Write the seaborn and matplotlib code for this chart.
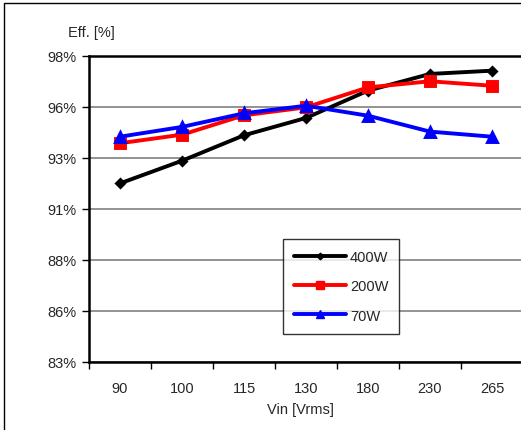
import matplotlib
matplotlib.use('Agg')
from matplotlib import pyplot as plt
from matplotlib.patches import Rectangle
from matplotlib.lines import Line2D
import pandas as pd
import seaborn as sns

# data
vin = ['90', '100', '115', '130', '180', '230', '265']
eff_400w = [91.75, 92.86, 94.11, 94.96, 96.30, 97.12, 97.28]
eff_200w = [93.72, 94.14, 95.09, 95.48, 96.46, 96.76, 96.54]
eff_70w = [94.04, 94.52, 95.19, 95.56, 95.07, 94.29, 94.04]
series_names = ['400W', '200W', '70W']
ytick_values = [83.0, 85.5, 88.0, 90.5, 93.0, 95.5, 98.0]
ytick_labels = ['83%', '86%', '88%', '91%', '93%', '96%', '98%']

df = pd.concat([
    pd.DataFrame({'Vin': vin, 'eff': vals, 'load': name})
    for name, vals in zip(series_names, [eff_400w, eff_200w, eff_70w])
])

sns.set_theme(style='white')
plt.rcParams['font.family'] = ['Liberation Sans', 'DejaVu Sans']

W, H = 521, 431
fig = plt.figure(figsize=(W / 100, H / 100), dpi=100)
ax = fig.add_axes([89 / W, 1 - 362.7 / H, (523 - 89) / W, (362.7 - 57) / H])

colors = ['#000000', '#ff0000', '#0000ff']
markers = ['D', 's', '^']
msizes = [4.5, 7.5, 7.5]
for name, c, m, ms in zip(series_names, colors, markers, msizes):
    sns.pointplot(ax=ax, data=df[df['load'] == name], x='Vin', y='eff', order=vin,
                  color=c, marker=m, markersize=ms, linewidth=2.8, errorbar=None)

ax.set_ylim(83, 98)
ax.set_xlim(-0.5, len(vin) - 0.5)
ax.set_yticks(ytick_values)
ax.set_yticklabels(ytick_labels)
ax.yaxis.grid(True, color='#808080', linewidth=1.2)
ax.set_axisbelow(True)
ax.set_xlabel('')
ax.set_ylabel('')

# tick marks sit between categories
ax.set_xticks([i - 0.5 for i in range(len(vin) + 1)], minor=True)
ax.tick_params(axis='x', which='major', length=0, pad=14, labelsize=10.5)
ax.tick_params(axis='x', which='minor', length=5, width=1, color='black', direction='out', bottom=True)
ax.tick_params(axis='y', length=5, width=1, color='black', direction='out', left=True, labelsize=10.5, pad=4)

for side in ['left', 'bottom', 'top']:
    ax.spines[side].set_color('black')
    ax.spines[side].set_linewidth(1.8)
ax.spines['right'].set_visible(False)

handles = [Line2D([], [], color=c, marker=m, markersize=ms * 0.75, linewidth=2.8)
           for c, m, ms in zip(colors, markers, msizes)]
leg = fig.legend(handles, series_names, loc='upper left',
                 bbox_to_anchor=(283 / W, 1 - 240 / H), fontsize=10.5,
                 frameon=True, fancybox=False, handlelength=3.6, handletextpad=0.25,
                 labelspacing=1.05, borderpad=0.75, borderaxespad=0)
leg.get_frame().set_edgecolor('black')
leg.get_frame().set_linewidth(1)
leg._legend_box.align = 'left'

fig.text(91 / W, 1 - 33 / H, 'Eff. [%]', ha='center', va='center', fontsize=10.5)
fig.text(300 / W, 1 - 410 / H, 'Vin [Vrms]', ha='center', va='center', fontsize=10.5)

# outer chart frame
fig.patches.append(Rectangle((4 / W, -0.1), 1.2, 1 - 3.5 / H + 0.1, transform=fig.transFigure,
                             fill=False, edgecolor='black', linewidth=1))

fig.savefig('out.png', dpi=100)
